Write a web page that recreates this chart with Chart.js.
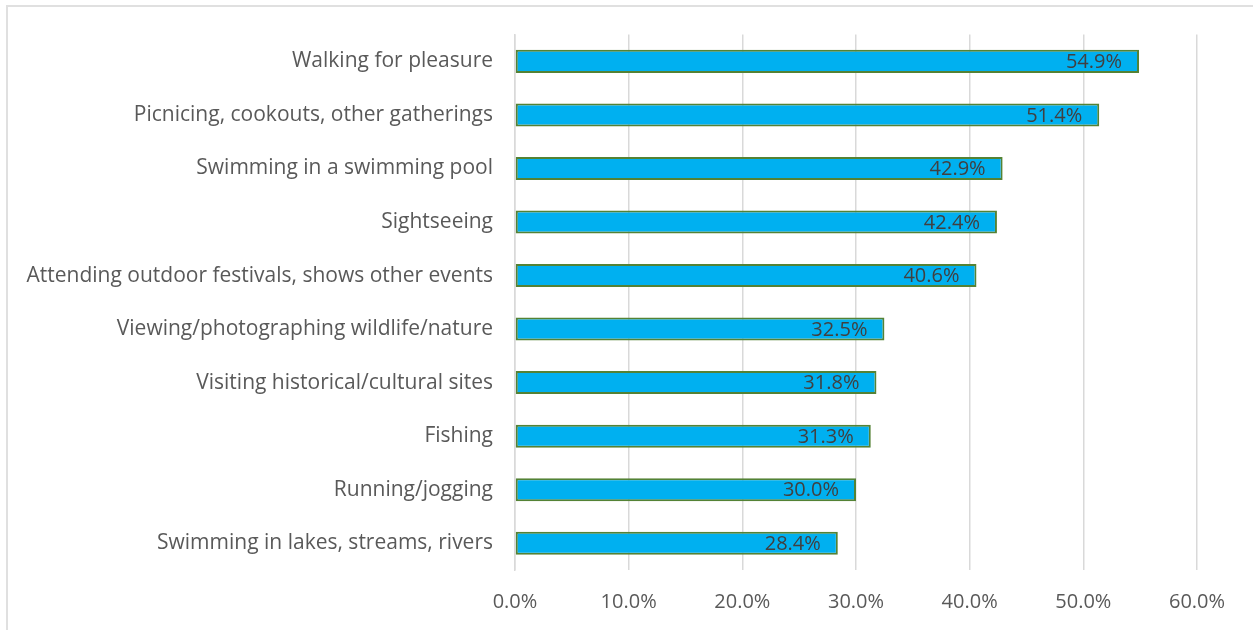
<!DOCTYPE html>
<html>
<head>
<meta charset="utf-8">
<script src="https://cdn.jsdelivr.net/npm/chart.js@4"></script>
<style>
  html, body { margin: 0; padding: 0; background: #fff; overflow: hidden; }
  #frame {
    position: absolute; left: 6px; top: 5px; width: 1300px; height: 700px;
    border: 2px solid #e0e0e0;
  }
  #barChart { position: absolute; left: 0; top: 0; }
</style>
</head>
<body>
<div id="frame"></div>
<canvas id="barChart" width="1253" height="630"></canvas>
<script>
const activities = [
    'Walking for pleasure',
    'Picnicing, cookouts, other gatherings',
    'Swimming in a swimming pool',
    'Sightseeing',
    'Attending outdoor festivals, shows other events',
    'Viewing/photographing wildlife/nature',
    'Visiting historical/cultural sites',
    'Fishing',
    'Running/jogging',
    'Swimming in lakes, streams, rivers'
];
const participation = [54.9, 51.4, 42.9, 42.4, 40.6, 32.5, 31.8, 31.3, 30.0, 28.4];
const xTicks = [0, 10, 20, 30, 40, 50, 60];

const FONT = "'Open Sans', 'Noto Sans', sans-serif";

// value labels drawn just inside the end of each bar
const valueLabels = {
    id: 'valueLabels',
    afterDatasetsDraw(chart) {
        const ctx = chart.ctx;
        const meta = chart.getDatasetMeta(0);
        ctx.save();
        ctx.font = '20px ' + FONT;
        ctx.fillStyle = '#404040';
        ctx.textAlign = 'right';
        ctx.textBaseline = 'middle';
        meta.data.forEach((bar, i) => {
            ctx.fillText(participation[i].toFixed(1) + '%', bar.x - 17, bar.y + 1);
        });
        ctx.restore();
    }
};

new Chart(document.getElementById('barChart'), {
    type: 'bar',
    data: {
        labels: activities,
        datasets: [{
            data: participation,
            backgroundColor: '#00b0f0',
            borderColor: '#548235',
            borderWidth: 2,
            borderSkipped: false,
            barPercentage: 0.43,
            categoryPercentage: 1
        }]
    },
    options: {
        indexAxis: 'y',
        responsive: false,
        animation: false,
        layout: { padding: { top: 34, right: 56, left: 0, bottom: 0 } },
        plugins: {
            legend: { display: false },
            tooltip: { enabled: false }
        },
        scales: {
            x: {
                min: 0,
                max: 60,
                afterBuildTicks(scale) {
                    scale.ticks = xTicks.map(v => ({ value: v }));
                },
                afterFit(scale) { scale.height = 60; },
                grid: { color: '#d9d9d9', lineWidth: 1.5, drawTicks: false },
                border: { display: false },
                ticks: {
                    padding: 20,
                    color: '#595959',
                    font: { family: FONT, size: 20 },
                    callback: v => v.toFixed(1) + '%'
                }
            },
            y: {
                afterFit(scale) { scale.width = 515; },
                grid: { display: false, drawTicks: false },
                border: { display: true, color: '#d9d9d9', width: 1.5 },
                ticks: {
                    padding: 22,
                    color: '#595959',
                    font: { family: FONT, size: 21 }
                }
            }
        }
    },
    plugins: [valueLabels]
});
</script>
</body>
</html>
